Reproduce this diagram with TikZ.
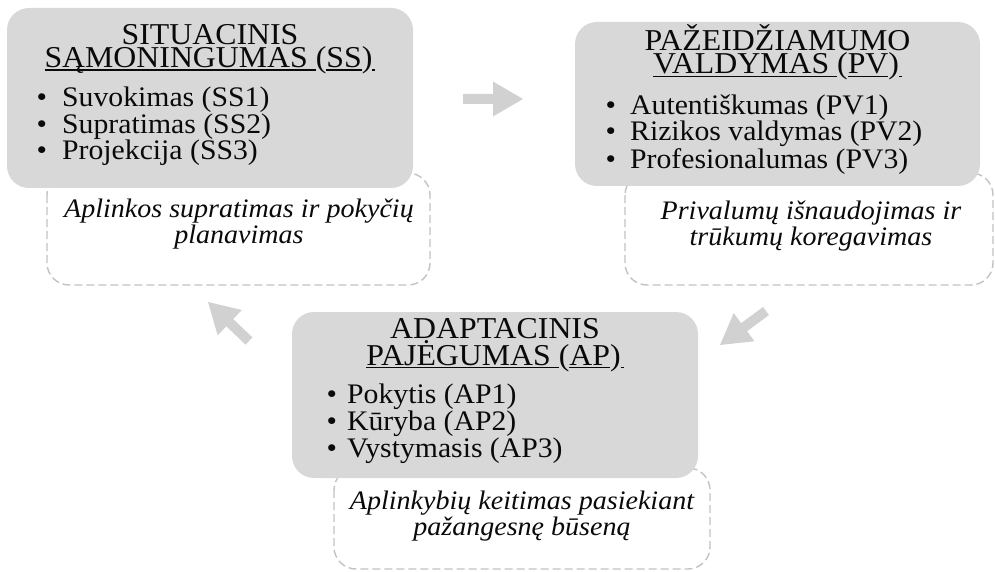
\documentclass[tikz,border=0pt]{standalone}
\usepackage{fontspec}
\setmainfont{Liberation Serif}[FakeStretch=1.05]
\usetikzlibrary{calc}

\definecolor{boxgray}{RGB}{216,216,216}
\definecolor{arrowgray}{RGB}{208,209,208}
\definecolor{dashgray}{RGB}{194,194,194}
\definecolor{ink}{RGB}{10,10,10}

% underline at a fixed depth, crossing descenders like a word processor does
\newsavebox{\ulinebox}
\newcommand{\ulin}[1]{\sbox{\ulinebox}{#1}\rlap{\rule[-3.2pt]{\wd\ulinebox}{1.4pt}}\usebox{\ulinebox}}
% bullet followed by its text at a fixed indent
\newcommand{\bitem}[2]{\makebox[#1][l]{\textbullet}#2}

% block arrow from a tail point to a tip point
\newcommand{\blockarrow}[2]{%
  \path ($(#2)!30pt!(#1)$) coordinate (#2-base);
  \fill[arrowgray]
    ($(#1)!5pt!90:(#2)$) -- ($(#2-base)!5pt!-90:(#1)$) --
    ($(#2-base)!17.5pt!-90:(#1)$) -- (#2) --
    ($(#2-base)!17.5pt!90:(#1)$) -- ($(#2-base)!5pt!90:(#1)$) --
    ($(#1)!5pt!-90:(#2)$) -- cycle;}

\begin{document}
\begin{tikzpicture}[x=1pt,y=-1pt,
  panel/.style={fill=boxgray, rounded corners=22pt},
  notebox/.style={draw=dashgray, line width=1.4pt, dash pattern=on 8pt off 4pt,
    rounded corners=22pt, fill=white},
  % multi-line nodes: the base anchor sits on the baseline of the last line
  heading/.style={inner sep=0pt, anchor=base, align=center, text=ink,
    font=\fontsize{30.3}{23}\selectfont},
  items/.style={inner sep=0pt, anchor=base west, align=left, text=ink,
    font=\fontsize{28.3}{23.3}\selectfont},
  note/.style={inner sep=0pt, anchor=base, align=center, text=ink,
    font=\fontsize{26.7}{23}\selectfont\itshape}]

\useasboundingbox (0,0) rectangle (995,572);

% dashed note frames, drawn first so the grey panels overlap their tops
\draw[notebox] (47,173) rectangle (430,285);
\draw[notebox] (625,173) rectangle (993,285);
\draw[notebox] (334,468) rectangle (710,569);

% grey panels
\fill[panel] (7,8) rectangle (413,188);
\fill[panel] (575,22) rectangle (980,186);
\fill[panel] (292,312) rectangle (698,478);

% situational awareness
\node[heading] (ss-title) at (210,67.5)
  {SITUACINIS\\\ulin{SĄMONINGUMAS }(\ulin{SS})\ulin{\kern3pt}};
\node[items] (ss-items) at (36.5,160)
  {\bitem{25.5pt}{Suvokimas (SS1)}\\\bitem{25.5pt}{Supratimas (SS2)}\\\bitem{25.5pt}{Projekcija (SS3)}};
\node[note] (ss-note) at (239,243)
  {Aplinkos supratimas ir pokyčių\\planavimas};

% vulnerability management
\node[heading] (pv-title) at (777.5,74)
  {PAŽEIDŽIAMUMO\\\ulin{VALDYMAS }(\ulin{PV})\ulin{\kern3pt}};
\node[items] (pv-items) at (605.5,168)
  {\bitem{24.5pt}{Autentiškumas (PV1)}\\\bitem{24.5pt}{Rizikos valdymas (PV2)}\\\bitem{24.5pt}{Profesionalumas (PV3)}};
\node[note] (pv-note) at (811,245)
  {Privalumų išnaudojimas ir\\trūkumų koregavimas};

% adaptive capacity
\node[heading] (ap-title) at (495,365)
  {ADAPTACINIS\\\ulin{PAJĖGUMAS }(\ulin{AP})\ulin{\kern3pt}};
\node[items] (ap-items) at (326.5,457)
  {\bitem{20.5pt}{Pokytis (AP1)}\\\bitem{20.5pt}{Kūryba (AP2)}\\\bitem{20.5pt}{Vystymasis (AP3)}};
\node[note] (ap-note) at (522,535)
  {Aplinkybių keitimas pasiekiant\\pažangesnę būseną};

% cycle arrows
\coordinate (a1-tail) at (463,99);  \coordinate (a1-tip) at (523,99);
\coordinate (a2-tail) at (766,311); \coordinate (a2-tip) at (720,345);
\coordinate (a3-tail) at (249,341); \coordinate (a3-tip) at (208,302);
\blockarrow{a1-tail}{a1-tip}
\blockarrow{a2-tail}{a2-tip}
\blockarrow{a3-tail}{a3-tip}

\end{tikzpicture}
\end{document}
